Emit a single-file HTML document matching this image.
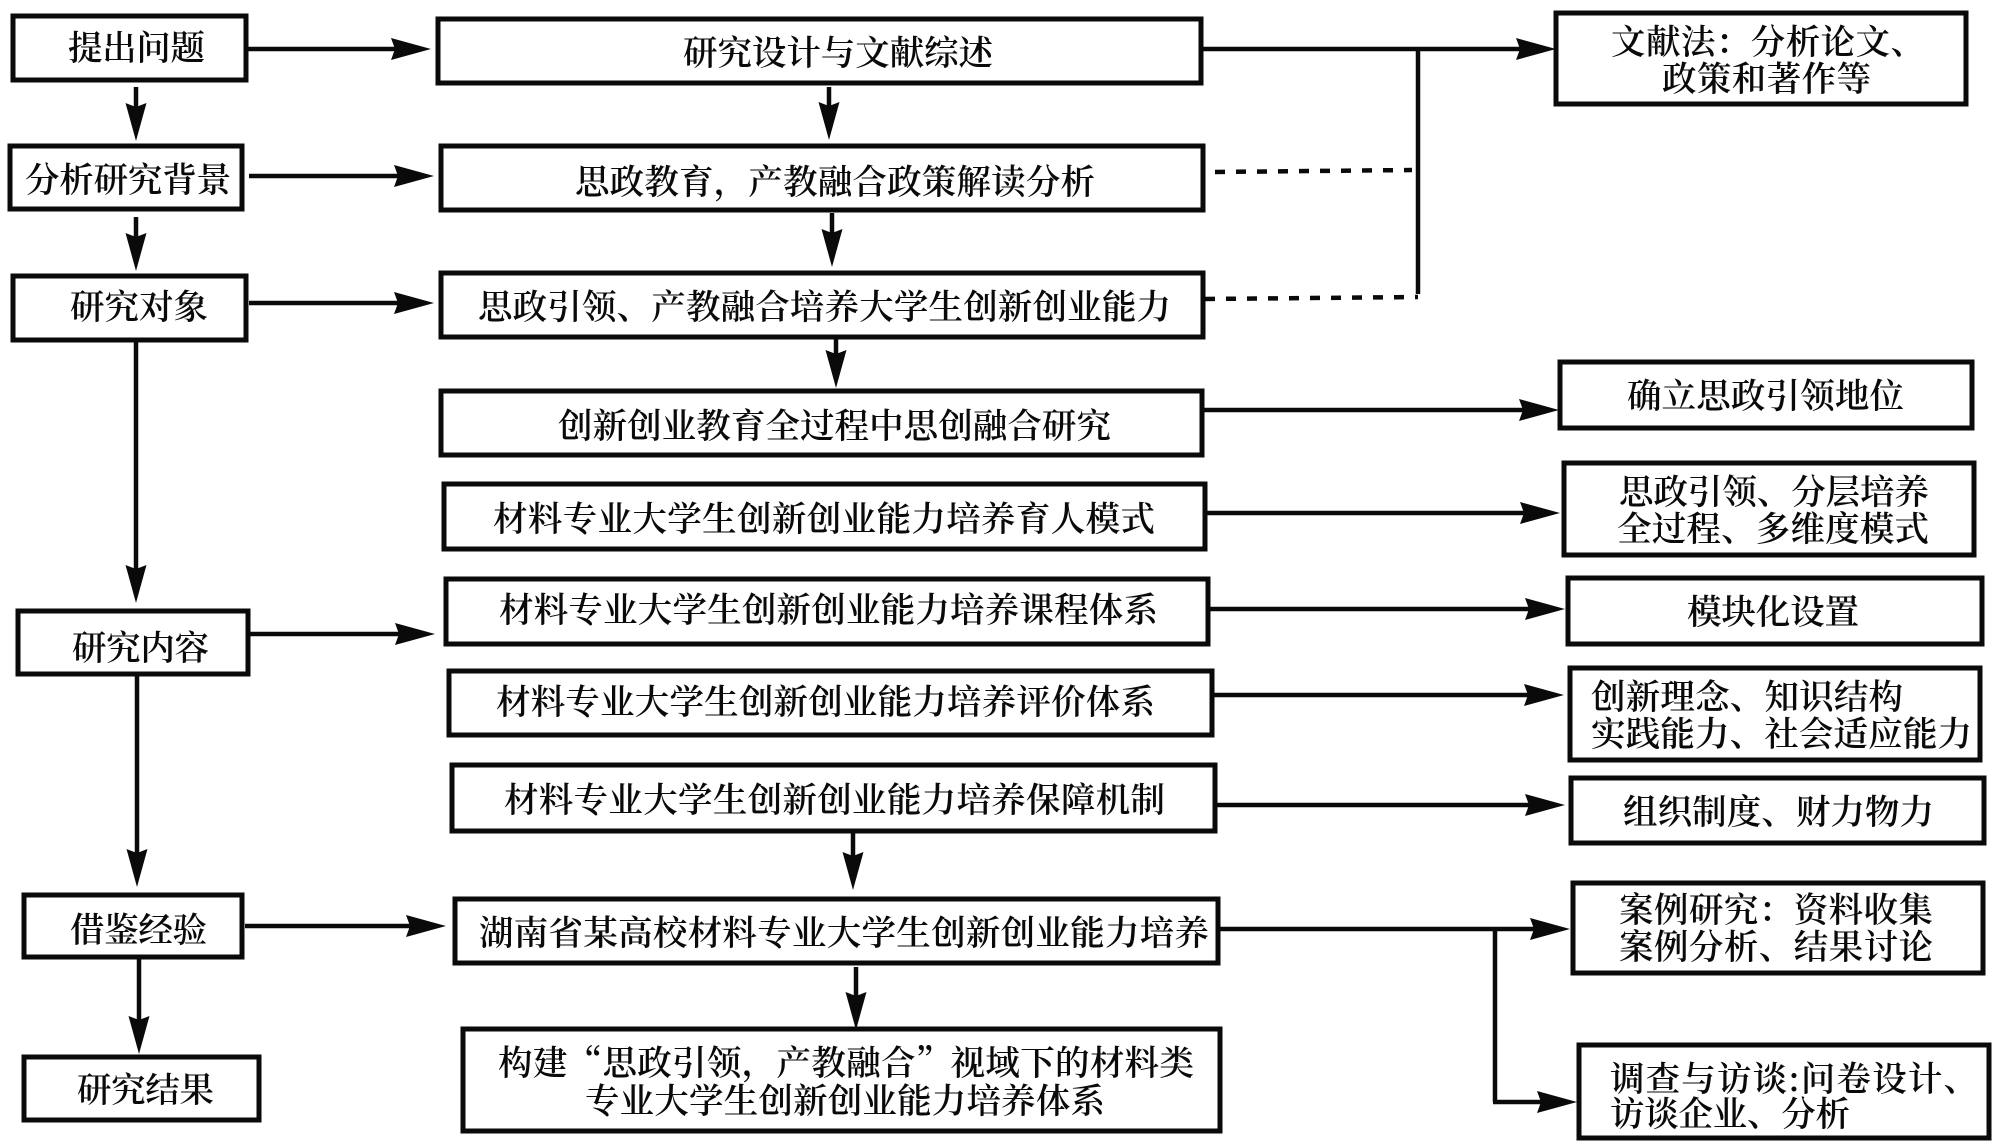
<!DOCTYPE html>
<html lang="zh"><head><meta charset="utf-8"><title>研究路线图</title>
<style>html,body{margin:0;padding:0;background:#fff}svg{display:block}
text{font-family:"Noto Serif CJK SC","Liberation Serif",serif;font-size:34.5px;font-weight:600;fill:#0a0a0a}
.c{font-family:"Noto Serif CJK JP","Noto Serif CJK SC",serif}
rect{fill:#fff;stroke:#0a0a0a;stroke-width:5}
line{stroke:#0a0a0a;stroke-width:4.5}</style></head><body>
<svg xmlns="http://www.w3.org/2000/svg" width="2000" height="1143" viewBox="0 0 2000 1143">
<defs>
<polygon id="r" points="0,0 -40,-11 -36,0 -40,11" fill="#0a0a0a"/>
<polygon id="d" points="0,0 -10.5,-38 0,-34 10.5,-38" fill="#0a0a0a"/>
</defs>
<rect x="0" y="0" width="2000" height="1143" style="fill:#fff;stroke:none"/>
<!-- left boxes -->
<rect x="13" y="16" width="233" height="64"/>
<rect x="10" y="146" width="232" height="63"/>
<rect x="13" y="276" width="233" height="64"/>
<rect x="18" y="611" width="230" height="63"/>
<rect x="24" y="895" width="218" height="62"/>
<rect x="24" y="1057" width="235" height="63"/>
<!-- middle boxes -->
<rect x="438" y="19" width="763" height="64"/>
<rect x="441" y="146" width="762" height="64"/>
<rect x="441" y="273" width="762" height="64"/>
<rect x="441" y="391" width="761" height="64"/>
<rect x="444" y="484" width="761" height="65"/>
<rect x="446" y="579" width="762" height="65"/>
<rect x="449" y="671" width="763" height="64"/>
<rect x="452" y="765" width="763" height="66"/>
<rect x="455" y="899" width="763" height="64"/>
<rect x="463" y="1029" width="757" height="102"/>
<!-- right boxes -->
<rect x="1556" y="13" width="410" height="91"/>
<rect x="1560" y="362" width="412" height="66"/>
<rect x="1564" y="463" width="410" height="92"/>
<rect x="1568" y="578" width="414" height="66"/>
<rect x="1570" y="668" width="410" height="92"/>
<rect x="1571" y="778" width="413" height="65"/>
<rect x="1573" y="883" width="410" height="90"/>
<rect x="1579" y="1045" width="410" height="93"/>
<!-- connectors -->
<line x1="246" y1="49" x2="400" y2="49"/><use href="#r" x="431" y="49"/>
<line x1="249" y1="176" x2="404" y2="176"/><use href="#r" x="434" y="176"/>
<line x1="249" y1="303" x2="404" y2="303"/><use href="#r" x="434" y="303"/>
<line x1="248" y1="634" x2="404" y2="634"/><use href="#r" x="435" y="634"/>
<line x1="245" y1="926" x2="416" y2="926"/><use href="#r" x="446" y="926"/>
<line x1="136" y1="87" x2="136" y2="111"/><use href="#d" x="136" y="141"/>
<line x1="136" y1="217" x2="136" y2="241"/><use href="#d" x="136" y="271"/>
<line x1="136" y1="341" x2="136" y2="573"/><use href="#d" x="136" y="603"/>
<line x1="137" y1="675" x2="137" y2="857"/><use href="#d" x="137" y="887"/>
<line x1="139" y1="957" x2="139" y2="1024"/><use href="#d" x="139" y="1054"/>
<line x1="829" y1="87" x2="829" y2="110"/><use href="#d" x="829" y="140"/>
<line x1="832" y1="213" x2="832" y2="237"/><use href="#d" x="832" y="267"/>
<line x1="836" y1="338" x2="836" y2="358"/><use href="#d" x="836" y="388"/>
<line x1="853" y1="832" x2="853" y2="860"/><use href="#d" x="853" y="890"/>
<line x1="856" y1="967" x2="856" y2="1000"/><use href="#d" x="856" y="1030"/>
<line x1="1201" y1="49" x2="1525" y2="49"/><use href="#r" x="1556" y="49"/>
<line x1="1418" y1="49" x2="1418" y2="294"/>
<line x1="1215" y1="172" x2="1412" y2="170" stroke-dasharray="10 11"/>
<line x1="1205" y1="299" x2="1418" y2="297" stroke-dasharray="10 11"/>
<line x1="1203" y1="410" x2="1528" y2="410"/><use href="#r" x="1559" y="410"/>
<line x1="1206" y1="513" x2="1527" y2="513"/><use href="#r" x="1560" y="513"/>
<line x1="1208" y1="609" x2="1532" y2="609"/><use href="#r" x="1565" y="609"/>
<line x1="1212" y1="695" x2="1530" y2="695"/><use href="#r" x="1564" y="695"/>
<line x1="1215" y1="805" x2="1532" y2="805"/><use href="#r" x="1565" y="805"/>
<line x1="1218" y1="929" x2="1538" y2="929"/><use href="#r" x="1570" y="929"/>
<line x1="1495" y1="929" x2="1495" y2="1102"/>
<line x1="1493" y1="1102" x2="1545" y2="1102"/><use href="#r" x="1577" y="1102"/>
<g transform="translate(0,2)">
<!-- left text -->
<text x="68" y="58" textLength="137">提出问题</text>
<text x="25" y="190" textLength="206">分析研究背景</text>
<text x="70" y="317" textLength="138">研究对象</text>
<text x="72" y="658" textLength="137">研究内容</text>
<text x="70" y="940" textLength="137">借鉴经验</text>
<text x="77" y="1100" textLength="137">研究结果</text>
<!-- middle text -->
<text x="683" y="63" textLength="310">研究设计与文献综述</text>
<text x="575" y="192" textLength="520">思政教育，产教融合政策解读分析</text>
<text x="478" y="317" textLength="693">思政引领、产教融合培养大学生创新创业能力</text>
<text x="558" y="436" textLength="553">创新创业教育全过程中思创融合研究</text>
<text x="493" y="529" textLength="662">材料专业大学生创新创业能力培养育人模式</text>
<text x="499" y="620" textLength="659">材料专业大学生创新创业能力培养课程体系</text>
<text x="496" y="712" textLength="659">材料专业大学生创新创业能力培养评价体系</text>
<text x="504" y="810" textLength="661">材料专业大学生创新创业能力培养保障机制</text>
<text x="479" y="943" textLength="730">湖南省某高校材料专业大学生创新创业能力培养</text>
<text x="498" y="1073" textLength="696">构建“思政引领，产教融合”视域下的材料类</text>
<text x="585" y="1111" textLength="520">专业大学生创新创业能力培养体系</text>
<!-- right text -->
<text x="1611" y="52" textLength="314">文献法<tspan class="c">：</tspan>分析论文、</text>
<text x="1662" y="89" textLength="209">政策和著作等</text>
<text x="1627" y="406" textLength="277">确立思政引领地位</text>
<text x="1619" y="502" textLength="310">思政引领、分层培养</text>
<text x="1617" y="539" textLength="312">全过程、多维度模式</text>
<text x="1687" y="622" textLength="172">模块化设置</text>
<text x="1591" y="707" textLength="312">创新理念、知识结构</text>
<text x="1591" y="744" textLength="381">实践能力、社会适应能力</text>
<text x="1623" y="822" textLength="311">组织制度、财力物力</text>
<text x="1619" y="920" textLength="314">案例研究<tspan class="c">：</tspan>资料收集</text>
<text x="1619" y="957" textLength="314">案例分析、结果讨论</text>
<text x="1610" y="1089" textLength="368">调查与访谈:问卷设计、</text>
<text x="1610" y="1124" textLength="240">访谈企业、分析</text>
</g>
</svg>
</body></html>
